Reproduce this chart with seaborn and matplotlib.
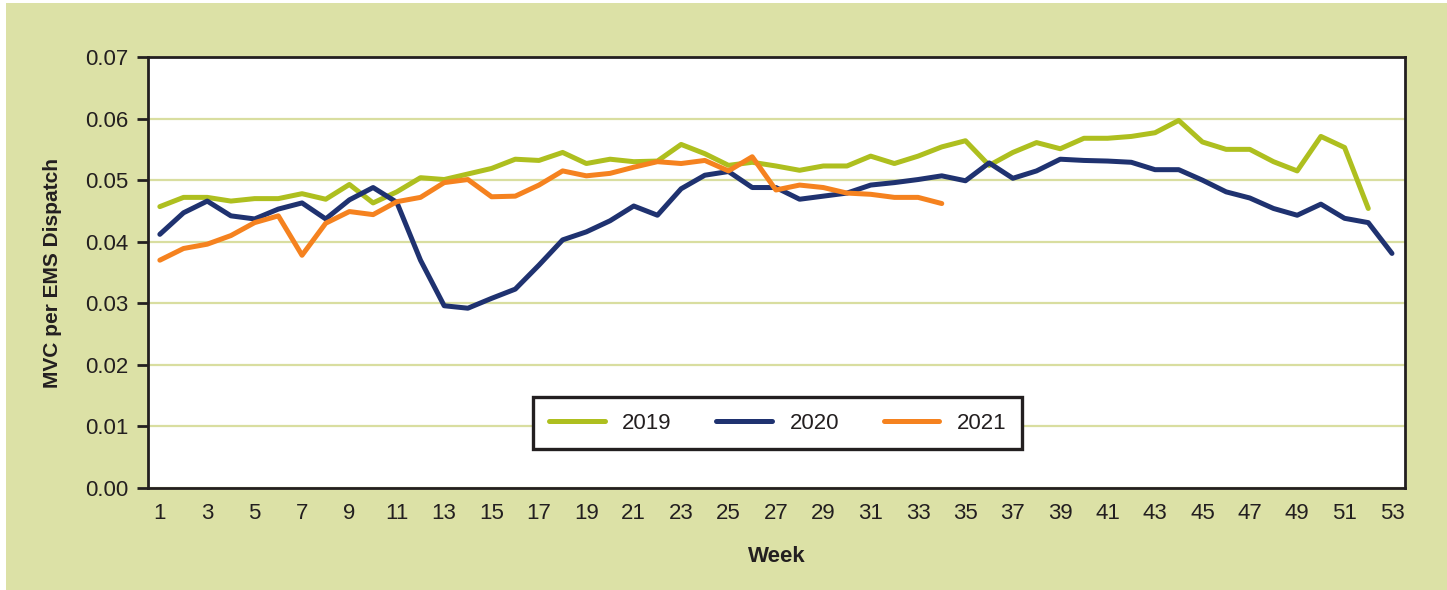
import numpy as np
import pandas as pd
import seaborn as sns
import matplotlib.pyplot as plt
from matplotlib.patches import Rectangle

sns.set_style('white')
plt.rcParams['font.family'] = ['Liberation Sans', 'DejaVu Sans']

# MVC per EMS dispatch, by week
mvc_2019 = [0.0457, 0.0472, 0.0472, 0.0466, 0.0470, 0.0470, 0.0478, 0.0469, 0.0493, 0.0463,
            0.0481, 0.0504, 0.0501, 0.0510, 0.0519, 0.0534, 0.0532, 0.0545, 0.0527, 0.0534,
            0.0530, 0.0531, 0.0558, 0.0543, 0.0524, 0.0529, 0.0523, 0.0516, 0.0523, 0.0523,
            0.0539, 0.0527, 0.0539, 0.0554, 0.0564, 0.0524, 0.0545, 0.0561, 0.0551, 0.0568,
            0.0568, 0.0571, 0.0577, 0.0597, 0.0562, 0.0550, 0.0550, 0.0530, 0.0515, 0.0571,
            0.0553, 0.0454]
mvc_2020 = [0.0412, 0.0447, 0.0466, 0.0442, 0.0437, 0.0453, 0.0463, 0.0437, 0.0468, 0.0488,
            0.0464, 0.0370, 0.0296, 0.0292, 0.0308, 0.0323, 0.0362, 0.0403, 0.0416, 0.0434,
            0.0458, 0.0443, 0.0486, 0.0508, 0.0514, 0.0488, 0.0488, 0.0469, 0.0474, 0.0479,
            0.0492, 0.0496, 0.0501, 0.0507, 0.0499, 0.0528, 0.0503, 0.0515, 0.0534, 0.0532,
            0.0531, 0.0529, 0.0517, 0.0517, 0.0500, 0.0481, 0.0471, 0.0454, 0.0443, 0.0461,
            0.0438, 0.0431, 0.0381]
mvc_2021 = [0.0370, 0.0389, 0.0396, 0.0410, 0.0431, 0.0442, 0.0378, 0.0430, 0.0449, 0.0444,
            0.0465, 0.0472, 0.0496, 0.0501, 0.0473, 0.0474, 0.0492, 0.0515, 0.0507, 0.0511,
            0.0521, 0.0530, 0.0527, 0.0532, 0.0515, 0.0538, 0.0484, 0.0492, 0.0488, 0.0479,
            0.0477, 0.0472, 0.0472, 0.0462]

years = ['2019', '2020', '2021']
series = [mvc_2019, mvc_2020, mvc_2021]
colors = ['#AEBF1F', '#1F3270', '#F5821F']
week_ticks = list(range(1, 54, 2))
y_ticks = [0.00, 0.01, 0.02, 0.03, 0.04, 0.05, 0.06, 0.07]

olive = '#DCE1A6'
ink = '#231F20'

fig = plt.figure(figsize=(14.47, 5.9), dpi=100, facecolor='white')
fig.patches.append(Rectangle((6 / 1447, 0), 1, 587 / 590, transform=fig.transFigure,
                             facecolor=olive, edgecolor='none', zorder=-10))
ax = fig.add_axes([148 / 1447, 1 - 488 / 590, 1257 / 1447, 431 / 590])
ax.set_facecolor('white')

for yr, vals, c in zip(years, series, colors):
    d = pd.DataFrame({'Week': np.arange(1, len(vals) + 1), 'MVC': vals})
    sns.lineplot(data=d, x='Week', y='MVC', ax=ax, color=c, lw=3.6, label=yr,
                 solid_capstyle='round', solid_joinstyle='round')

ax.set_xlim(0.5, 53.55)
ax.set_ylim(0, 0.07)
ax.set_xticks(week_ticks)
ax.set_xticklabels([str(w) for w in week_ticks])
ax.set_yticks(y_ticks)
ax.set_yticklabels([f'{v:.2f}' for v in y_ticks])
ax.yaxis.grid(True, color='#D9DEA0', lw=1.6)
ax.set_axisbelow(True)
for s in ax.spines.values():
    s.set_color(ink)
    s.set_linewidth(2.0)

ax.tick_params(axis='y', direction='out', length=8, width=2, color=ink,
               labelsize=16, labelcolor=ink, pad=6, left=True)
ax.tick_params(axis='x', length=0, labelsize=16, labelcolor=ink, pad=11)

ax.set_xlabel('Week', fontsize=16, fontweight='bold', color=ink, labelpad=16)
ax.set_ylabel('MVC per EMS Dispatch', fontsize=15, fontweight='bold', color=ink, labelpad=17)

leg = ax.legend(loc='center', bbox_to_anchor=(0.501, 0.15), ncol=3, frameon=True,
                fancybox=False, edgecolor=ink, framealpha=1, fontsize=16,
                handlelength=2.5, columnspacing=2.0, handletextpad=0.8, borderpad=0.7)
leg.get_frame().set_linewidth(2.4)
for t in leg.get_texts():
    t.set_color(ink)

fig.savefig('out.png', dpi=100, facecolor=fig.get_facecolor())
